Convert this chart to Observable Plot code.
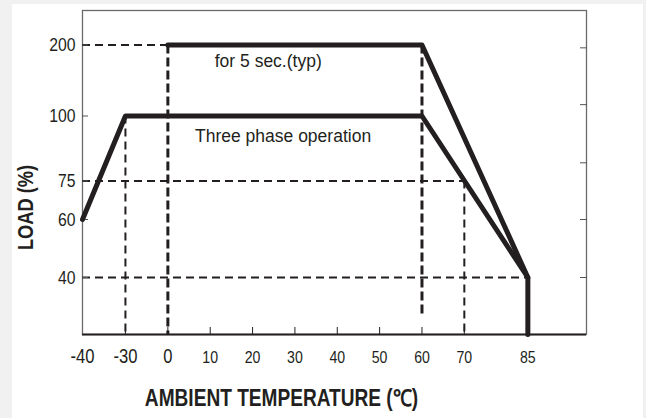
<!DOCTYPE html>
<html><head><meta charset="utf-8">
<script src="https://cdn.jsdelivr.net/npm/d3@7"></script>
<script src="https://cdn.jsdelivr.net/npm/@observablehq/plot@0.6"></script>
<style>
body{margin:0;background:#f1f1f1;width:646px;height:418px;overflow:hidden;position:relative}
#panel{position:absolute;left:12px;top:4px;width:631px;height:414px;background:#fff}
#chart{position:absolute;left:0;top:0}
</style></head><body><div id="panel"></div><div id="chart"></div>
<script>
// ---- data ----
const yMin = 20;                       // value at the bottom axis
const yTicks = [40, 60, 75, 100, 200];
const rightTicks = [196, 116, 82, 60, 40];
const xTicksBig = [-40, -30, 0];
const xTicksSmall = [10, 20, 30, 40, 50, 60, 70, 85];
const xTickMarks = [-30, 0, 10, 20, 30, 40, 50, 60, 70];

const overloadTemp = [0, 60, 85];
const overloadLoad = [200, 200, 40];
const threeTemp = [-40, -30, 60, 85, 85];
const threeLoad = [60, 100, 100, 40, yMin];

const hGuideY  = [200, 75, 40];
const hGuideX1 = [-40, -40, -40];
const hGuideX2 = [0, 70, 85];
const vThickX  = [0, 60];
const vThickY1 = [200, 200];
const vThickY2 = [yMin, 26];
const vThinX   = [-30, 70];
const vThinY1  = [100, 75];
const vThinY2  = [yMin, yMin];

const noteText = ["for 5 sec.(typ)", "Three phase operation"];
const noteX = [23.7, 27.2];
const noteY = [177, 92];

const xTitle = "AMBIENT TEMPERATURE (℃)";
const yTitle = "LOAD (%)";
const yTitleAt = 64.7;

// ---- tables ----
const overload = overloadTemp.map((t, i) => ({t, load: overloadLoad[i]}));
const three = threeTemp.map((t, i) => ({t, load: threeLoad[i]}));
const hGuides = hGuideY.map((y, i) => ({y, x1: hGuideX1[i], x2: hGuideX2[i]}));
const vThick = vThickX.map((x, i) => ({x, y1: vThickY1[i], y2: vThickY2[i]}));
const vThin = vThinX.map((x, i) => ({x, y1: vThinY1[i], y2: vThinY2[i]}));
const notes = noteText.map((text, i) => ({text, x: noteX[i], y: noteY[i]}));

// the printed axes are not linear: piecewise warps applied before the linear scales
const warpX = d3.scaleLinear().domain([-40, -30, 0, 85, 99]).range([0, 42.9, 85.3, 445, 503.6].map(v => v / 503.6));
const warpY = d3.scaleLinear().domain([yMin, 40, 60, 75, 100, 200, 248]).range([0, 57, 115, 153.5, 218.5, 289.5, 324].map(v => v / 324));
const fmtX = v => String(Math.round(warpX.invert(v)));
const fmtY = v => String(Math.round(warpY.invert(v)));
const none = () => "";

const ink = "#231f20";
const font = "'Liberation Sans',Arial,sans-serif";

const chart = Plot.plot({
  width: 646, height: 418,
  marginLeft: 82, marginRight: 60, marginTop: 10, marginBottom: 84,
  style: {background: "transparent", fontFamily: font, color: ink},
  x: {transform: warpX, domain: [0, 1]},
  y: {transform: warpY, domain: [0, 1]},
  marks: [
    Plot.frame({stroke: "#6a6a6a", strokeWidth: 1.3}),
    Plot.ruleY(hGuides, {y: "y", x1: "x1", x2: "x2", stroke: ink, strokeWidth: 2, strokeDasharray: "8,5"}),
    Plot.ruleX(vThick, {x: "x", y1: "y1", y2: "y2", stroke: ink, strokeWidth: 3, strokeDasharray: "9,4"}),
    Plot.ruleX(vThin, {x: "x", y1: "y1", y2: "y2", stroke: ink, strokeWidth: 2, strokeDasharray: "8,5"}),
    Plot.ruleY([yMin], {stroke: ink, strokeWidth: 2}),
    Plot.axisY({ticks: yTicks.map(warpY), tickFormat: fmtY, tickSize: 0, tickPadding: 7, fontSize: 19, label: null, className: "narrow"}),
    Plot.axisY({ticks: yTicks.map(warpY), tickSize: -6, tickFormat: none, label: null, stroke: "#555"}),
    Plot.axisY({anchor: "right", ticks: rightTicks.map(warpY), tickSize: -7, tickFormat: none, label: null, stroke: "#555"}),
    Plot.axisX({ticks: xTicksBig.map(warpX), tickFormat: fmtX, tickSize: 0, tickPadding: 14, fontSize: 20, label: null, className: "narrow"}),
    Plot.axisX({ticks: xTicksSmall.map(warpX), tickFormat: fmtX, tickSize: 0, tickPadding: 16, fontSize: 17, label: null, className: "narrow"}),
    Plot.axisX({ticks: xTickMarks.map(warpX), tickSize: -7, tickFormat: none, label: null, stroke: ink}),
    Plot.line(overload, {x: "t", y: "load", stroke: ink, strokeWidth: 5}),
    Plot.line(three, {x: "t", y: "load", stroke: ink, strokeWidth: 5}),
    Plot.text(notes, {x: "x", y: "y", text: "text", fontSize: 17.5, fill: ink}),
    Plot.text([xTitle], {frameAnchor: "bottom", dx: -53, dy: 71, fontSize: 23, fontWeight: "bold", fill: ink, className: "narrow"}),
    Plot.text([yTitle], {frameAnchor: "left", y: [yTitleAt], rotate: -90, dx: -57, textAnchor: "middle", fontSize: 22, fontWeight: "bold", fill: ink, className: "narrow"})
  ]
});
document.getElementById("chart").appendChild(chart);
// the reference uses a narrow typeface: condense those glyphs horizontally
chart.querySelectorAll("[class^='narrow'] text, text[class^='narrow'], g[class*='narrow'] text").forEach(el => {
  const w = el.getComputedTextLength();
  if (w > 0) {
    el.setAttribute("textLength", (w * 0.83).toFixed(1));
    el.setAttribute("lengthAdjust", "spacingAndGlyphs");
  }
});
</script></body></html>
